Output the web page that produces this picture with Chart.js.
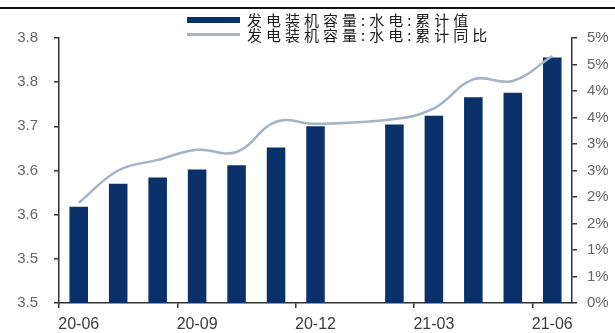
<!DOCTYPE html>
<html>
<head>
<meta charset="utf-8">
<script src="https://cdn.jsdelivr.net/npm/chart.js@4/dist/chart.umd.min.js"></script>
<style>
  body { margin: 0; background: #fff; }
  #wrap { position: relative; width: 615px; height: 333px; }
  #topRule { position: absolute; left: 0; top: 7px; width: 615px; height: 2px; background: #111; }
  #chart { position: absolute; left: 0; top: 0; }
  #legend { position: absolute; left: 187px; top: 12px; font-family: "Noto Sans CJK SC", sans-serif; font-size: 15px; color: #1a1a1a; }
  #legend .item { display: flex; align-items: center; height: 15px; }
  #legend .swatch { width: 53px; margin-right: 7px; }
  #legend .text { letter-spacing: 4px; line-height: 15px; }
</style>
</head>
<body>
<div id="wrap">
  <div id="topRule"></div>
  <canvas id="chart" width="615" height="333"></canvas>
  <div id="legend"></div>
</div>
<script>
// Monthly hydropower installed capacity (bars, left axis) and YoY growth (line, right axis)
const months = ["20-06", "20-07", "20-08", "20-09", "20-10", "20-11", "20-12",
                "21-01", "21-02", "21-03", "21-04", "21-05", "21-06"];
const capacity = [3.609, 3.635, 3.642, 3.651, 3.656, 3.676, 3.700,
                  null, 3.702, 3.712, 3.733, 3.738, 3.778];
const yoyPct = [1.89, 2.50, 2.70, 2.89, 2.85, 3.42, 3.38,
                null, 3.47, 3.67, 4.22, 4.19, 4.66];
const seriesNames = ["发电装机容量:水电:累计值", "发电装机容量:水电:累计同比"];
const seriesColors = ["#0a3169", "#a6b3c4"];

const axisColor = "#333";

const ctx = document.getElementById("chart").getContext("2d");
const chart = new Chart(ctx, {
    type: "bar",
    data: {
        labels: months,
        datasets: [
            {
                type: "line",
                label: seriesNames[1],
                data: yoyPct,
                yAxisID: "yRight",
                borderColor: seriesColors[1],
                backgroundColor: seriesColors[1],
                borderWidth: 2.5,
                pointRadius: 0,
                tension: 0.4,
                spanGaps: true,
                order: 0
            },
            {
                label: seriesNames[0],
                data: capacity,
                yAxisID: "yLeft",
                backgroundColor: seriesColors[0],
                barPercentage: 0.47,
                categoryPercentage: 1,
                order: 1
            }
        ]
    },
    options: {
        responsive: false,
        animation: false,
        layout: { padding: { top: 38, left: 0, right: 0, bottom: 0 } },
        scales: {
            x: {
                offset: true,
                grid: {
                    offset: true,
                    drawOnChartArea: false,
                    tickLength: 5,
                    lineWidth: 1.5,
                    color: c => (c.index % 3 === 0 ? axisColor : "transparent")
                },
                border: { display: true, color: axisColor, width: 1.5 },
                ticks: {
                    autoSkip: false,
                    maxRotation: 0,
                    padding: 7,
                    color: "#3c3c3c",
                    font: { family: "Liberation Sans, Arial", size: 16 },
                    callback: (v, i) => (i % 3 === 0 ? months[i] : "")
                },
                afterFit: scale => { scale.height = 30; }
            },
            yLeft: {
                position: "left",
                min: 3.5,
                max: 3.8,
                grid: { drawOnChartArea: false, tickLength: 5, lineWidth: 1.5, color: axisColor },
                border: { display: true, color: axisColor, width: 1.5 },
                ticks: {
                    stepSize: 0.05,
                    padding: 16,
                    color: "#666",
                    font: { family: "Liberation Sans, Arial", size: 15 },
                    callback: v => v.toFixed(1)
                },
                afterFit: scale => { scale.width = 59; }
            },
            yRight: {
                position: "right",
                min: 0,
                max: 5,
                grid: { drawOnChartArea: false, tickLength: 5, lineWidth: 1.5, color: axisColor },
                border: { display: true, color: axisColor, width: 1.5 },
                ticks: {
                    stepSize: 0.5,
                    padding: 10,
                    color: "#666",
                    font: { family: "Liberation Sans, Arial", size: 15 },
                    callback: v => Math.round(v) + "%"
                },
                afterFit: scale => { scale.width = 43; }
            }
        },
        plugins: {
            legend: { display: false },
            tooltip: { enabled: false }
        }
    }
});

// Stacked legend above the plot: bar swatch first, then the line swatch
const legendItems = [
    { name: seriesNames[0], color: seriesColors[0], thick: 6 },
    { name: seriesNames[1], color: seriesColors[1], thick: 3 }
];
document.getElementById("legend").innerHTML = legendItems.map(item => `
  <div class="item">
    <span class="swatch" style="height:${item.thick}px;background:${item.color}"></span>
    <span class="text">${item.name}</span>
  </div>
`).join("");
</script>
</body>
</html>
